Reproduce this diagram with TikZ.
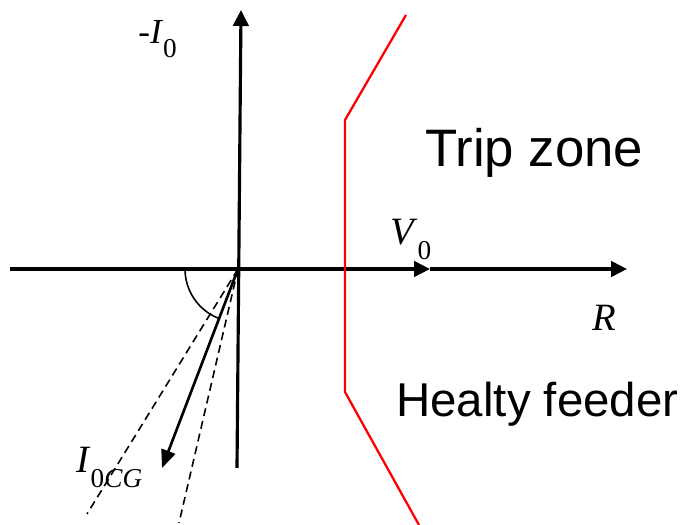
\documentclass[tikz,border=0pt]{standalone}
\usepackage{fontspec}
\setmainfont{Liberation Sans}
\newfontfamily\tmsfont{Liberation Serif}
\usetikzlibrary{arrows.meta}
\newcommand{\lowsub}[1]{\raisebox{-0.38em}{\fontsize{15.5}{16}\selectfont #1}}

\begin{document}
\begin{tikzpicture}[x=0.2mm, y=-0.2mm,
    axis/.style={line width=1.8pt, -{Triangle[length=3.2mm,width=3.1mm]}},
    phasor/.style={line width=1.5pt, -{Triangle[length=3.6mm,width=2.9mm]}},
    sector/.style={line width=0.9pt, dash pattern=on 1.6mm off 1mm},
    boundary/.style={line width=1.3pt, red},
    symb/.style={font=\tmsfont\fontsize{22}{24}\selectfont, anchor=base west, inner sep=0pt},
    zone/.style={anchor=base west, inner sep=0pt}]
    \useasboundingbox (0,0) rectangle (683,525);

    % Axes
    \coordinate (O) at (238,269);
    \coordinate (xl) at (10,269);
    \coordinate (vtip) at (430,269);
    \coordinate (xr) at (627,269);
    \coordinate (yb) at (237,468);
    \coordinate (yt) at (241,10);
    \draw[axis] (xl) -- (vtip);
    \draw[axis] (vtip) -- (xr);
    \draw[axis] (yb) -- (yt);

    % Characteristic of the relay
    \coordinate (r1) at (406,15);
    \coordinate (r2) at (345,120);
    \coordinate (r3) at (345,392);
    \coordinate (r4) at (419,525);
    \draw[boundary] (r1) -- (r2) -- (r3) -- (r4);

    % Capacitive current with its spread
    \coordinate (dl) at (87,514);
    \coordinate (dr) at (179,523);
    \coordinate (icg) at (162,468);
    \draw[sector] (O) -- (dl);
    \draw[sector] (O) -- (dr);
    \draw[phasor] (O) -- (icg);
    \draw[line width=0.9pt] ([shift={(180:53)}]O) arc[start angle=180, end angle=111, radius=53];

    % Labels
    \node[symb, font=\tmsfont\fontsize{20}{22}\selectfont] (mI) at (138,44) {-\textit{I}\lowsub{0}};
    \node[symb] (V) at (390,245) {\textit{V}\lowsub{0}};
    \node[symb] (R) at (592,331) {\textit{R}};
    \node[symb] (ICG) at (76,473) {\textit{I}\lowsub{0\textit{CG}}};
    \node[zone, font=\fontsize{30}{34}\selectfont] (trip) at (425,167) {Trip zone};
    \node[zone, font=\fontsize{27}{30}\selectfont] (healthy) at (396,417) {Healty feeder};
\end{tikzpicture}
\end{document}
